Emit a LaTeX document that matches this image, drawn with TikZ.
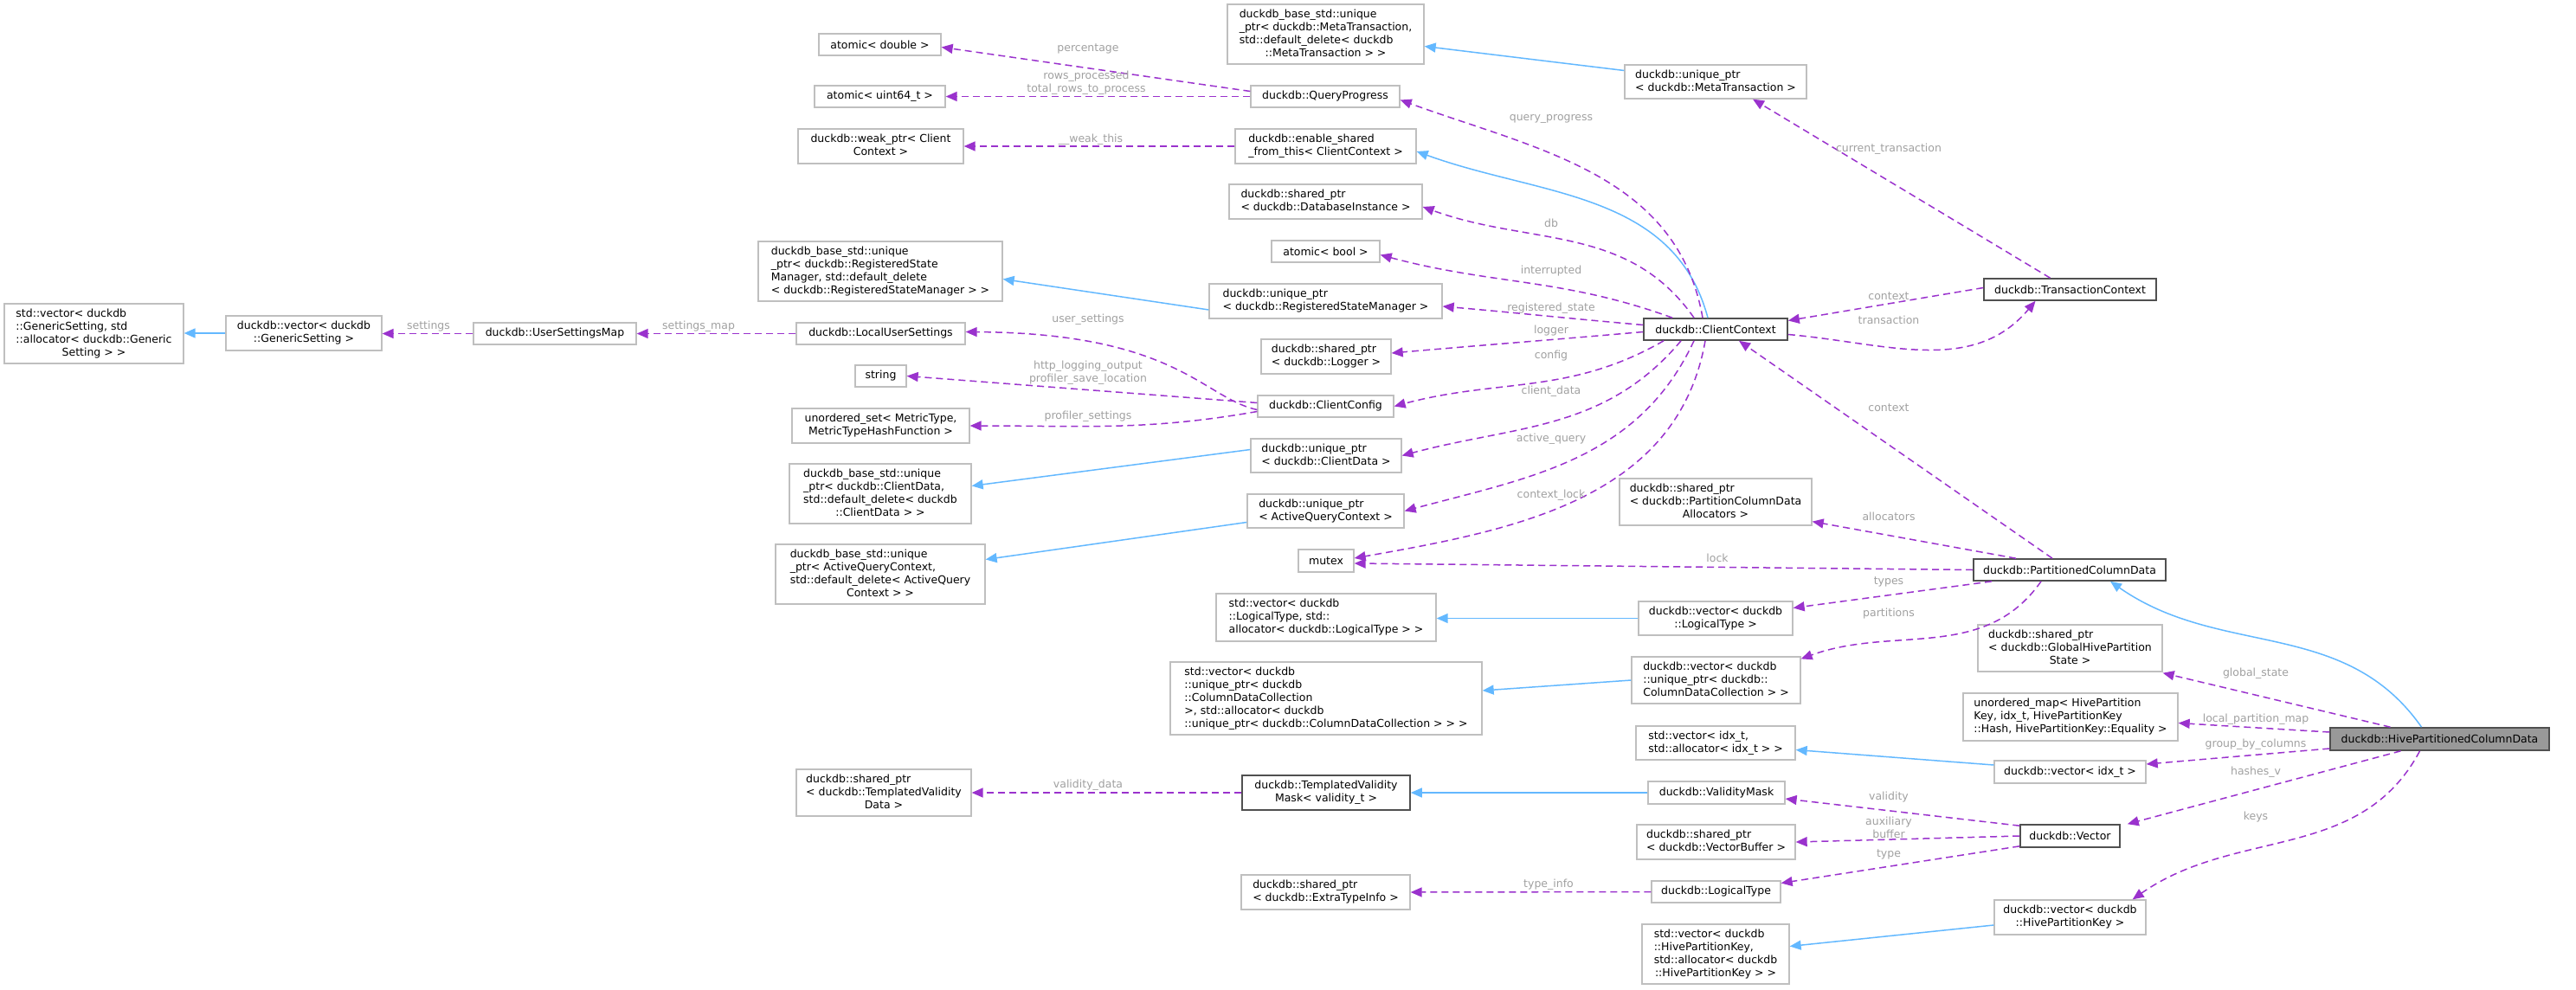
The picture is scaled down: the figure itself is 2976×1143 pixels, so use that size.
\documentclass[tikz,border=0pt]{standalone}
\usepackage{fontspec}
\setmainfont{DejaVu Sans}
\usetikzlibrary{arrows.meta}
\definecolor{purp}{HTML}{9A32CD}
\definecolor{blu}{HTML}{63B8FF}
\definecolor{lbord}{HTML}{BFBFBF}
\definecolor{dbord}{HTML}{505050}
\definecolor{lbltx}{HTML}{A0A0A0}
\definecolor{hfill}{HTML}{999999}
\newcommand\bx[7]{\node[#7, minimum width={(#4-#2)*1pt}, minimum height={(#5-#3)*1pt}] (#1) at ({(#2+#4)/2},{(#3+#5)/2}) {#6};}
\newcommand\ml[2]{\begin{tabular}{@{}l@{}}#1\\\multicolumn{1}{@{}c@{}}{#2}\end{tabular}}
\begin{document}
\begin{tikzpicture}[x=1pt,y=-1pt,
  font=\fontsize{12.5}{15}\selectfont,
  every node/.style={inner sep=2pt},
  lb/.style={draw=lbord, line width=1.3pt, fill=white},
  dk/.style={draw=dbord, line width=1.6pt, fill=white},
  hv/.style={draw=dbord, line width=1.6pt, fill=hfill},
  use/.style={draw=purp, line width=1.5pt, dash pattern=on 8pt off 5pt, -{Triangle[length=13pt,width=11pt]}},
  inh/.style={draw=blu, line width=1.5pt, -{Triangle[length=13pt,width=11pt]}},
  lbl/.style={text=lbltx, align=center, inner sep=0pt}]
\useasboundingbox (0,0) rectangle (2976,1143);
\bx{ad}{946}{39}{1087}{64}{atomic< double >}{lb}
\bx{au}{941}{99}{1092}{124}{atomic< uint64\_t >}{lb}
\bx{wp}{922}{149}{1113}{189}{\ml{duckdb::weak\_ptr< Client}{Context >}}{lb}
\bx{rsmb}{876}{279}{1158}{348}{\ml{duckdb\_base\_std::unique\\\_ptr< duckdb::RegisteredState\\Manager, std::default\_delete}{< duckdb::RegisteredStateManager > >}}{lb}
\bx{sgs}{5}{351}{212}{420}{\ml{std::vector< duckdb\\::GenericSetting, std\\::allocator< duckdb::Generic}{Setting > >}}{lb}
\bx{vgs}{261}{365}{441}{405}{\ml{duckdb::vector< duckdb}{::GenericSetting >}}{lb}
\bx{usm}{547}{373}{735}{398}{duckdb::UserSettingsMap}{lb}
\bx{lus}{920}{373}{1115}{398}{duckdb::LocalUserSettings}{lb}
\bx{str}{988}{422}{1047}{447}{string}{lb}
\bx{uset}{915}{472}{1120}{512}{\ml{unordered\_set< MetricType,}{MetricTypeHashFunction >}}{lb}
\bx{cdb}{912}{536}{1122}{605}{\ml{duckdb\_base\_std::unique\\\_ptr< duckdb::ClientData,\\std::default\_delete< duckdb}{::ClientData > >}}{lb}
\bx{aqb}{896}{629}{1138}{698}{\ml{duckdb\_base\_std::unique\\\_ptr< ActiveQueryContext,\\std::default\_delete< ActiveQuery}{Context > >}}{lb}
\bx{mtb}{1418}{5}{1645}{74}{\ml{duckdb\_base\_std::unique\\\_ptr< duckdb::MetaTransaction,\\std::default\_delete< duckdb}{::MetaTransaction > >}}{lb}
\bx{ump}{1877}{75}{2087}{114}{\ml{duckdb::unique\_ptr}{< duckdb::MetaTransaction >}}{lb}
\bx{qp}{1445}{99}{1617}{124}{duckdb::QueryProgress}{lb}
\bx{es}{1427}{149}{1636}{189}{\ml{duckdb::enable\_shared}{\_from\_this< ClientContext >}}{lb}
\bx{sdb}{1420}{213}{1643}{253}{\ml{duckdb::shared\_ptr}{< duckdb::DatabaseInstance >}}{lb}
\bx{abool}{1469}{278}{1594}{303}{atomic< bool >}{lb}
\bx{ursm}{1397}{328}{1666}{368}{\ml{duckdb::unique\_ptr}{< duckdb::RegisteredStateManager >}}{lb}
\bx{cc}{1899}{368}{2065}{393}{duckdb::ClientContext}{dk}
\bx{tc}{2292}{322}{2491}{347}{duckdb::TransactionContext}{dk}
\bx{lg}{1457}{392}{1607}{432}{\ml{duckdb::shared\_ptr}{< duckdb::Logger >}}{lb}
\bx{cfg}{1453}{457}{1610}{482}{duckdb::ClientConfig}{lb}
\bx{ucd}{1445}{507}{1619}{546}{\ml{duckdb::unique\_ptr}{< duckdb::ClientData >}}{lb}
\bx{uaq}{1441}{571}{1622}{610}{\ml{duckdb::unique\_ptr}{< ActiveQueryContext >}}{lb}
\bx{mtx}{1500}{635}{1564}{661}{mutex}{lb}
\bx{slt}{1405}{686}{1659}{741}{\ml{std::vector< duckdb\\::LogicalType, std::}{allocator< duckdb::LogicalType > >}}{lb}
\bx{vlt}{1893}{695}{2071}{734}{\ml{duckdb::vector< duckdb}{::LogicalType >}}{lb}
\bx{alc}{1871}{553}{2093}{607}{\ml{duckdb::shared\_ptr\\< duckdb::PartitionColumnData}{Allocators >}}{lb}
\bx{pcd}{2280}{646}{2502}{671}{duckdb::PartitionedColumnData}{dk}
\bx{ghp}{2285}{722}{2498}{776}{\ml{duckdb::shared\_ptr\\< duckdb::GlobalHivePartition}{State >}}{lb}
\bx{scdc}{1352}{765}{1712}{849}{\ml{std::vector< duckdb\\::unique\_ptr< duckdb\\::ColumnDataCollection\\ >, std::allocator< duckdb}{::unique\_ptr< duckdb::ColumnDataCollection > > >}}{lb}
\bx{vcdc}{1885}{759}{2080}{813}{\ml{duckdb::vector< duckdb\\::unique\_ptr< duckdb::}{ColumnDataCollection > >}}{lb}
\bx{sidx}{1890}{839}{2074}{878}{\ml{std::vector< idx\_t,}{std::allocator< idx\_t > >}}{lb}
\bx{tvm}{1435}{896}{1629}{936}{\ml{duckdb::TemplatedValidity}{Mask< validity\_t >}}{dk}
\bx{tvd}{920}{889}{1122}{943}{\ml{duckdb::shared\_ptr\\< duckdb::TemplatedValidity}{Data >}}{lb}
\bx{vm}{1904}{903}{2062}{929}{duckdb::ValidityMask}{lb}
\bx{vb}{1891}{953}{2074}{993}{\ml{duckdb::shared\_ptr}{< duckdb::VectorBuffer >}}{lb}
\bx{eti}{1434}{1011}{1629}{1051}{\ml{duckdb::shared\_ptr}{< duckdb::ExtraTypeInfo >}}{lb}
\bx{lt}{1908}{1018}{2057}{1043}{duckdb::LogicalType}{lb}
\bx{shpk}{1897}{1068}{2067}{1137}{\ml{std::vector< duckdb\\::HivePartitionKey,\\std::allocator< duckdb}{::HivePartitionKey > >}}{lb}
\bx{umap}{2268}{801}{2516}{856}{\ml{unordered\_map< HivePartition\\Key, idx\_t, HivePartitionKey}{::Hash, HivePartitionKey::Equality >}}{lb}
\bx{hive}{2692}{841}{2945}{867}{duckdb::HivePartitionedColumnData}{hv}
\bx{vidx}{2304}{879}{2479}{905}{duckdb::vector< idx\_t >}{lb}
\bx{vec}{2334}{953}{2449}{979}{duckdb::Vector}{dk}
\bx{vhpk}{2304}{1040}{2479}{1080}{\ml{duckdb::vector< duckdb}{::HivePartitionKey >}}{lb}
% inheritance
\draw[inh] (vgs.west) -- (vgs.west -| sgs.east);
\draw[inh] ([yshift=13pt]ump.west) -- ([yshift=-14pt]mtb.east);
\draw[inh] ([xshift=-9pt]cc.north) to[out=105,in=-20] ([yshift=-6pt]es.east);
\draw[inh] ([yshift=-10pt]ursm.west) -- ([yshift=-9pt]rsmb.east);
\draw[inh] ([yshift=7pt]ucd.west) -- ([yshift=9pt]cdb.east);
\draw[inh] ([yshift=-13pt]uaq.west) -- ([yshift=17pt]aqb.east);
\draw[inh] (vlt.west) -- (vlt.west -| slt.east);
\draw[inh] (vcdc.west) -- ([yshift=9pt]scdc.east);
\draw[inh] ([yshift=8pt]vidx.west) -- ([yshift=-8pt]sidx.east);
\draw[inh] (vm.west) -- (vm.west -| tvm.east);
\draw[inh] ([yshift=-9pt]vhpk.west) -- ([yshift=9pt]shpk.east);
\draw[inh] ([xshift=-21pt]hive.north) to[out=125,in=-35] ([xshift=47pt]pcd.south);
% usage
\draw[use] (usm.west) -- (usm.west -| vgs.east);
\draw[use] (lus.west) -- (lus.west -| usm.east);
\draw[use] ([yshift=-4pt]cfg.west) .. controls (1390,460) and (1360,385) .. ([yshift=2pt]lus.east);
\draw[use] ([yshift=4pt]cfg.west) -- (str.east);
\draw[use] ([yshift=-6pt]cfg.west) to[out=190,in=0] (uset.east);
\draw[use] ([yshift=6pt]qp.west) -- ([yshift=-3pt]ad.east);
\draw[use] (qp.west) -- (au.east);
\draw[use] (es.west) -- (wp.east);
\draw[use] ([xshift=-15pt]cc.north) to[out=100,in=-20] ([yshift=-4pt]qp.east);
\draw[use] ([xshift=-25pt]cc.north) to[out=125,in=-20] ([yshift=-6pt]sdb.east);
\draw[use] ([xshift=-50pt]cc.north) to[out=160,in=-15] ([yshift=-4pt]abool.east);
\draw[use] ([yshift=5pt]cc.west) to[out=175,in=-5] ([yshift=-6pt]ursm.east);
\draw[use] ([yshift=-3pt]cc.west) to[out=185,in=5] ([yshift=4pt]lg.east);
\draw[use] ([xshift=-60pt]cc.south) to[out=-150,in=15] (cfg.east);
\draw[use] ([xshift=-40pt]cc.south) to[out=-130,in=15] (ucd.east);
\draw[use] ([xshift=-25pt]cc.south) to[out=-115,in=15] (uaq.east);
\draw[use] ([xshift=-12pt]cc.south) to[out=-100,in=10] ([yshift=3pt]mtx.east);
\draw[use] ([yshift=-6pt]cc.east) to[out=-5,in=-130] ([xshift=-40pt]tc.south);
\draw[use] ([yshift=2pt]tc.west) -- ([yshift=10pt]cc.east);
\draw[use] ([xshift=-23pt]tc.north) -- ([xshift=43pt]ump.south);
\draw[use] ([xshift=-20pt]pcd.north) -- ([xshift=27pt]cc.south);
\draw[use] ([xshift=-62pt]pcd.north) -- ([yshift=5pt]alc.south east);
\draw[use] (pcd.west) -- ([yshift=-3pt]mtx.east);
\draw[use] ([xshift=-90pt]pcd.south) -- ([yshift=12pt]vlt.east);
\draw[use] ([xshift=-33pt]pcd.south) to[out=-125,in=20] ([yshift=-3pt]vcdc.north east);
\draw[use] ([xshift=-57pt]hive.north) -- ([yshift=-1pt]ghp.south east);
\draw[use] ([yshift=8pt]hive.west) -- ([yshift=-7pt]umap.east);
\draw[use] ([yshift=-11pt]hive.west) -- ([yshift=9pt]vidx.east);
\draw[use] ([xshift=-45pt]hive.south) -- ([xshift=8pt]vec.north east);
\draw[use] ([xshift=-23pt]hive.south) to[out=-118,in=35] ([xshift=-16pt]vhpk.north east);
\draw[use] ([yshift=-2pt]vec.north west) -- ([yshift=-7pt]vm.east);
\draw[use] (vec.west) -- (vb.east);
\draw[use] ([yshift=2pt]vec.south west) -- ([yshift=10pt]lt.east);
\draw[use] (tvm.west) -- (tvd.east);
\draw[use] (lt.west) -- (eti.east);
% labels
\node[lbl] (l1) at (1257,56) {percentage};
\node[lbl] (l2) at (1255,96) {rows\_processed\\total\_rows\_to\_process};
\node[lbl] (l3) at (1260,161) {\_\_weak\_this};
\node[lbl] (l4) at (1792,137) {query\_progress};
\node[lbl] (l5) at (1792,258) {db};
\node[lbl] (l6) at (1792,313) {interrupted};
\node[lbl] (l7) at (1792,356) {registered\_state};
\node[lbl] (l8) at (1792,382) {logger};
\node[lbl] (l9) at (1792,411) {config};
\node[lbl] (l10) at (1792,452) {client\_data};
\node[lbl] (l11) at (1792,507) {active\_query};
\node[lbl] (l12) at (1792,572) {context\_lock};
\node[lbl] (l13) at (1257,369) {user\_settings};
\node[lbl] (l14) at (1257,431) {http\_logging\_output\\profiler\_save\_location};
\node[lbl] (l15) at (1257,481) {profiler\_settings};
\node[lbl] (l16) at (495,377) {settings};
\node[lbl] (l17) at (807,377) {settings\_map};
\node[lbl] (l18) at (2182,172) {current\_transaction};
\node[lbl] (l19) at (2182,342) {context};
\node[lbl] (l20) at (2182,370) {transaction};
\node[lbl] (l21) at (2182,471) {context};
\node[lbl] (l22) at (2182,597) {allocators};
\node[lbl] (l23) at (1984,645) {lock};
\node[lbl] (l24) at (2182,672) {types};
\node[lbl] (l25) at (2182,709) {partitions};
\node[lbl] (l26) at (2606,778) {global\_state};
\node[lbl] (l27) at (2606,831) {local\_partition\_map};
\node[lbl] (l28) at (2606,860) {group\_by\_columns};
\node[lbl] (l29) at (2606,892) {hashes\_v};
\node[lbl] (l30) at (2606,944) {keys};
\node[lbl] (l31) at (2182,921) {validity};
\node[lbl] (l32) at (2182,956) {auxiliary\\buffer};
\node[lbl] (l33) at (2182,987) {type};
\node[lbl] (l34) at (1257,907) {validity\_data};
\node[lbl] (l35) at (1789,1022) {type\_info};
\end{tikzpicture}
\end{document}
